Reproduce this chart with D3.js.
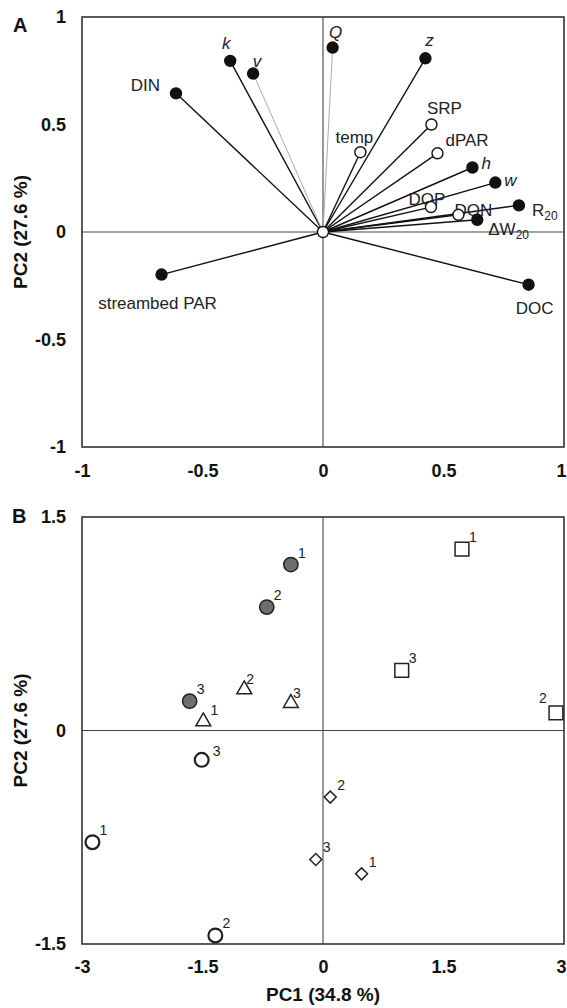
<html>
<head>
<meta charset="utf-8">
<style>
  body { margin: 0; background: #fff; }
  svg { font-family: "Liberation Sans", Arial, sans-serif; }
  .tick text { font-weight: bold; font-size: 18px; fill: #111; }
  .domain { display: none; }
  .title { font-weight: bold; font-size: 19px; fill: #111; }
  .lab { font-size: 17px; fill: #222; }
  .num { font-size: 14px; fill: #222; }
</style>
</head>
<body>
<svg width="567" height="1008"></svg>
<script src="https://d3js.org/d3.v7.min.js"></script>
<script>
// panel A: variable loadings
let varNames = ["DIN", "k", "v", "Q", "z", "SRP", "temp", "dPAR", "h", "w", "DOP", "DON", "R20", "dW20", "streambed PAR", "DOC"]
let varPc1 = [-0.61, -0.385, -0.29, 0.04, 0.425, 0.45, 0.155, 0.475, 0.62, 0.715, 0.448, 0.562, 0.813, 0.64, -0.67, 0.853]
let varPc2 = [0.645, 0.796, 0.737, 0.858, 0.808, 0.5, 0.371, 0.366, 0.3, 0.23, 0.116, 0.08, 0.124, 0.057, -0.198, -0.245]
let varFilled = [1, 1, 1, 1, 1, 0, 0, 0, 1, 1, 0, 0, 1, 1, 1, 1]
let loadTicks = [-1, -0.5, 0, 0.5, 1]

// panel B: site scores
let siteGroups = ["gray", "gray", "gray", "tri", "tri", "tri", "square", "square", "square", "open", "open", "open", "diamond", "diamond", "diamond"]
let siteNums = ["1", "2", "3", "1", "2", "3", "1", "2", "3", "1", "2", "3", "1", "2", "3"]
let sitePc1 = [-0.4, -0.7, -1.66, -1.49, -0.98, -0.4, 1.73, 2.9, 0.98, -2.87, -1.34, -1.51, 0.48, 0.09, -0.09]
let sitePc2 = [1.166, 0.867, 0.206, 0.063, 0.288, 0.192, 1.274, 0.124, 0.422, -0.785, -1.44, -0.206, -1.007, -0.468, -0.906]
let scoreTicksX = [-3, -1.5, 0, 1.5, 3]
let scoreTicksY = [-1.5, 0, 1.5]

let svg = d3.select("svg")
let left = 82, right = 564
let fmt = d => String(d)

// label placement for panel A (offset from point, px)
let labelPos = {
  "DIN": ["end", -16, -2], "k": ["middle", -4, -12], "v": ["middle", 4, -7],
  "Q": ["middle", 3, -10], "z": ["middle", 4, -12], "SRP": ["middle", 13, -11],
  "temp": ["middle", -6, -9], "dPAR": ["start", 8, -7], "h": ["start", 9, 1],
  "w": ["start", 9, 3], "DOP": ["middle", -4, -2], "DON": ["start", -4, 1],
  "R20": ["start", 13, 11], "dW20": ["start", 11, 15],
  "streambed PAR": ["middle", -4, 34], "DOC": ["middle", 6, 29]
}
let italics = ["k", "v", "Q", "z", "h", "w"]
let grayLines = ["v", "Q"]

function frame(g, x, y) {
  g.append("line").attr("x1", x(0)).attr("x2", x(0)).attr("y1", y.range()[0]).attr("y2", y.range()[1])
    .attr("stroke", "#444").attr("stroke-width", 1.1)
  g.append("line").attr("x1", left).attr("x2", right).attr("y1", y(0)).attr("y2", y(0))
    .attr("stroke", "#444").attr("stroke-width", 1.1)
  g.append("rect").attr("x", left).attr("y", y.range()[1])
    .attr("width", right - left).attr("height", y.range()[0] - y.range()[1])
    .attr("fill", "none").attr("stroke", "#333").attr("stroke-width", 1.6)
}

// keep the right-most x label inside the page
function nudgeLast(g) {
  g.selectAll(".tick:last-of-type text").attr("dx", -3)
}

// ---------- panel A ----------
let xA = d3.scaleLinear().domain([-1, 1]).range([left, right])
let yA = d3.scaleLinear().domain([-1, 1]).range([447, 17])
let gA = svg.append("g")

gA.append("g").attr("transform", `translate(${left},0)`)
  .call(d3.axisLeft(yA).tickValues(loadTicks).tickSize(0).tickPadding(16).tickFormat(fmt))
gA.append("g").attr("transform", "translate(0,447)")
  .call(d3.axisBottom(xA).tickValues(loadTicks).tickSize(0).tickPadding(17).tickFormat(fmt))
  .call(nudgeLast)
frame(gA, xA, yA)

let vars = varNames.map((n, i) => ({name: n, x: varPc1[i], y: varPc2[i], filled: varFilled[i]}))

gA.selectAll(".ray").data(vars).join("line")
  .attr("x1", xA(0)).attr("y1", yA(0))
  .attr("x2", d => xA(d.x)).attr("y2", d => yA(d.y))
  .attr("stroke", d => grayLines.includes(d.name) ? "#aaa" : "#111")
  .attr("stroke-width", d => grayLines.includes(d.name) ? 1 : 1.4)

let labs = gA.selectAll(".lab").data(vars).join("text")
  .attr("class", "lab")
  .attr("x", d => xA(d.x) + labelPos[d.name][1])
  .attr("y", d => yA(d.y) + labelPos[d.name][2])
  .attr("text-anchor", d => labelPos[d.name][0])
  .style("font-style", d => italics.includes(d.name) ? "italic" : "normal")
labs.each(function (d) {
  let t = d3.select(this)
  if (d.name == "R20" || d.name == "dW20") {
    t.append("tspan").text(d.name == "R20" ? "R" : "\u0394W")
    t.append("tspan").attr("dy", 4).style("font-size", "12px").text("20")
  } else {
    t.text(d.name)
  }
})

gA.selectAll(".pt").data(vars).join("circle")
  .attr("cx", d => xA(d.x)).attr("cy", d => yA(d.y)).attr("r", 5.5)
  .attr("fill", d => d.filled ? "#111" : "#fff")
  .attr("stroke", "#111").attr("stroke-width", 1.4)
gA.append("circle").attr("cx", xA(0)).attr("cy", yA(0)).attr("r", 5.5)
  .attr("fill", "#fff").attr("stroke", "#111").attr("stroke-width", 1.4)

gA.append("text").attr("class", "title").attr("transform", `translate(27,${yA(0)}) rotate(-90)`)
  .attr("text-anchor", "middle").text("PC2 (27.6 %)")
gA.append("text").attr("class", "title").attr("x", 13).attr("y", 32).style("font-size", "20px").text("A")

// ---------- panel B ----------
let xB = d3.scaleLinear().domain([-3, 3]).range([left, right])
let yB = d3.scaleLinear().domain([-1.5, 1.5]).range([944, 517])
let gB = svg.append("g")

gB.append("g").attr("transform", `translate(${left},0)`)
  .call(d3.axisLeft(yB).tickValues(scoreTicksY).tickSize(0).tickPadding(16).tickFormat(fmt))
gB.append("g").attr("transform", "translate(0,944)")
  .call(d3.axisBottom(xB).tickValues(scoreTicksX).tickSize(0).tickPadding(16).tickFormat(fmt))
  .call(nudgeLast)
frame(gB, xB, yB)

let sites = siteGroups.map((g, i) => ({group: g, num: siteNums[i], x: sitePc1[i], y: sitePc2[i]}))

let symType = {gray: d3.symbolCircle, open: d3.symbolCircle, tri: d3.symbolTriangle, square: d3.symbolSquare, diamond: d3.symbolSquare}
let symSize = {gray: 160, open: 150, tri: 95, square: 190, diamond: 72}
gB.selectAll(".site").data(sites).join("path")
  .attr("d", d => d3.symbol().type(symType[d.group]).size(symSize[d.group])())
  .attr("transform", d => `translate(${xB(d.x)},${yB(d.y)})` + (d.group == "diamond" ? " rotate(45)" : ""))
  .attr("fill", d => d.group == "gray" ? "#6e6e6e" : "#fff")
  .attr("stroke", "#222")
  .attr("stroke-width", d => d.group == "open" ? 2.2 : 1.5)

// number label offsets (default upper right)
let numPos = {"open3": [15, -4], "square2": [-13, -10], "tri2": [6, -6], "tri3": [6, -5]}
gB.selectAll(".num").data(sites).join("text")
  .attr("class", "num")
  .attr("x", d => xB(d.x) + (numPos[d.group + d.num] || [11, -7])[0])
  .attr("y", d => yB(d.y) + (numPos[d.group + d.num] || [11, -7])[1])
  .attr("text-anchor", "middle")
  .text(d => d.num)

gB.append("text").attr("class", "title").attr("transform", `translate(27,${yB(0)}) rotate(-90)`)
  .attr("text-anchor", "middle").text("PC2 (27.6 %)")
gB.append("text").attr("class", "title").attr("x", xB(0)).attr("y", 1001)
  .attr("text-anchor", "middle").text("PC1 (34.8 %)")
gB.append("text").attr("class", "title").attr("x", 12).attr("y", 523).style("font-size", "20px").text("B")
</script>
</body>
</html>
